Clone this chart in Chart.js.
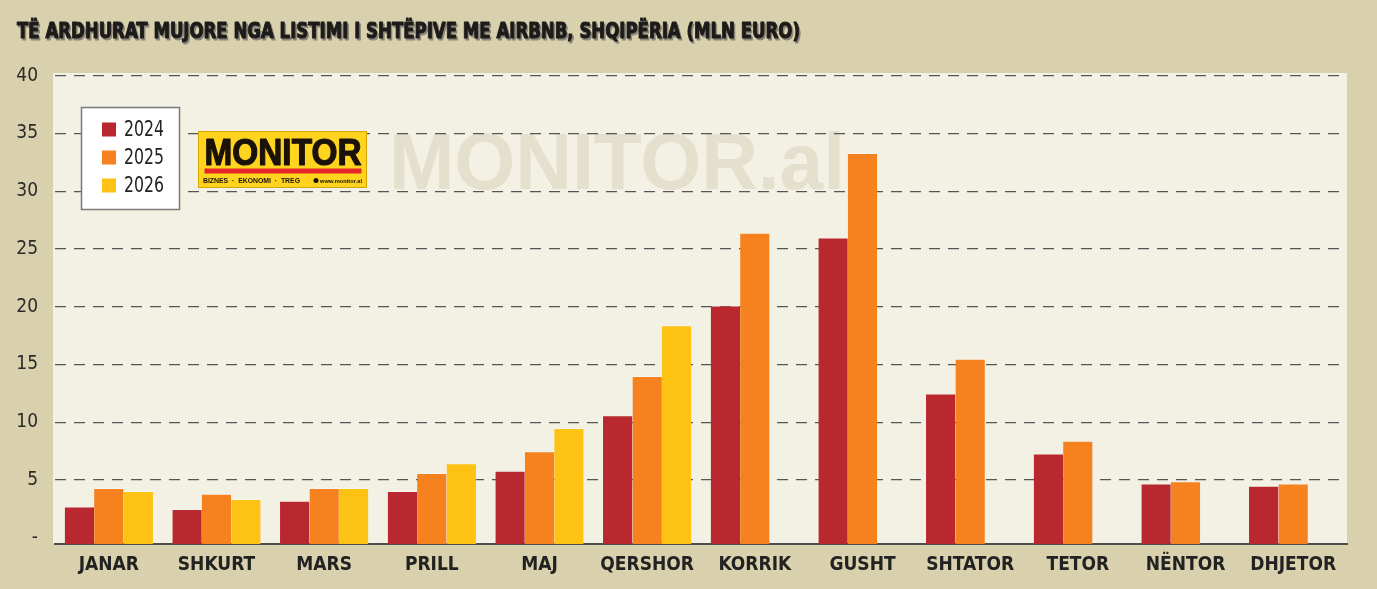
<!DOCTYPE html>
<html>
<head>
<meta charset="utf-8">
<script src="https://cdn.jsdelivr.net/npm/chart.js@4/dist/chart.umd.min.js"></script>
<style>
  html, body { margin: 0; padding: 0; background: #d9d1ad; }
  #wrap { width: 1377px; height: 589px; }
</style>
</head>
<body>
<div id="wrap"><canvas id="chart"></canvas></div>
<script>
const title = "TË ARDHURAT MUJORE NGA LISTIMI I SHTËPIVE ME AIRBNB, SHQIPËRIA (MLN EURO)";
const months = ["JANAR", "SHKURT", "MARS", "PRILL", "MAJ", "QERSHOR", "KORRIK", "GUSHT", "SHTATOR", "TETOR", "NËNTOR", "DHJETOR"];
const years = ["2024", "2025", "2026"];
const values2024 = [2.7, 2.5, 3.2, 4.05, 5.8, 10.6, 20.1, 26.0, 12.5, 7.3, 4.7, 4.5];
const values2025 = [4.3, 3.8, 4.3, 5.6, 7.5, 14.0, 26.4, 33.3, 15.5, 8.4, 4.9, 4.7];
const values2026 = [4.05, 3.35, 4.3, 6.45, 9.5, 18.4, null, null, null, null, null, null];
const yTicks = [0, 5, 10, 15, 20, 25, 30, 35, 40];
const colors = ["#b9272f", "#f5821f", "#fec214"];

const pageBg = "#d9d1ad";
const plotBg = "#f3f0e4";
const narrow = '"DejaVu Sans Condensed", "Liberation Sans", sans-serif';
const yMin = -0.54;

// draws text squeezed to a given width, optionally thickened with a stroke
function fitText(ctx, text, x, y, width, stroke) {
  const w = ctx.measureText(text).width;
  ctx.save();
  ctx.translate(x, y);
  ctx.scale(width / w, 1);
  if (stroke) {
    ctx.strokeStyle = ctx.fillStyle;
    ctx.lineWidth = stroke;
    ctx.lineJoin = "round";
    ctx.strokeText(text, 0, 0);
  }
  ctx.fillText(text, 0, 0);
  ctx.restore();
}

const decor = {
  id: "decor",
  beforeDraw(chart) {
    const { ctx, chartArea: a, width, height } = chart;
    ctx.save();
    ctx.fillStyle = pageBg;
    ctx.fillRect(0, 0, width, height);
    ctx.fillStyle = plotBg;
    ctx.fillRect(a.left - 2, a.top - 1, a.right - a.left + 2, a.bottom - a.top + 1);

    // watermark
    ctx.fillStyle = "#e5e0cd";
    ctx.font = 'bold 80px "Liberation Sans"';
    ctx.textBaseline = "alphabetic";
    fitText(ctx, "MONITOR.al", 389, 189, 456);

    // title with a soft shadow
    ctx.font = "bold 22px " + narrow;
    ctx.fillStyle = "#8a8578";
    fitText(ctx, title, 18.5, 39.5, 783, 1);
    ctx.fillStyle = "#1c1b1a";
    fitText(ctx, title, 17, 38, 783, 1);
    ctx.restore();
  },
  afterDraw(chart) {
    const { ctx } = chart;
    ctx.save();

    // legend box
    ctx.fillStyle = "#ffffff";
    ctx.fillRect(81.5, 107.5, 98, 102);
    ctx.strokeStyle = "#7a7a7a";
    ctx.lineWidth = 1.5;
    ctx.strokeRect(81.5, 107.5, 98, 102);
    const rows = [129.5, 157.5, 185.5];
    chart.data.datasets.forEach((ds, i) => {
      ctx.fillStyle = ds.backgroundColor;
      ctx.fillRect(102, rows[i] - 7, 14, 14);
      ctx.fillStyle = "#222222";
      ctx.font = "22px " + narrow;
      ctx.textBaseline = "middle";
      fitText(ctx, ds.label, 124, rows[i] + 1, 40);
    });

    // logo
    ctx.fillStyle = "#ffd41f";
    ctx.fillRect(198.5, 131.5, 168, 56);
    ctx.strokeStyle = "#d9a300";
    ctx.lineWidth = 1;
    ctx.strokeRect(198.5, 131.5, 168, 56);
    ctx.fillStyle = "#1a1208";
    ctx.textBaseline = "alphabetic";
    ctx.font = 'bold 36px "Liberation Sans"';
    fitText(ctx, "MONITOR", 204.5, 164.5, 157, 1.2);
    ctx.fillStyle = "#e3262a";
    ctx.fillRect(204.5, 168.5, 157, 5);
    ctx.fillStyle = "#1a1208";
    ctx.font = 'bold 7px "Liberation Sans"';
    fitText(ctx, "BIZNES  ·  EKONOMI  ·  TREG", 203, 183, 97);
    ctx.font = 'bold 6px "Liberation Sans"';
    fitText(ctx, "www.monitor.al", 320, 182.5, 42);
    ctx.beginPath();
    ctx.arc(316, 180.5, 2.5, 0, Math.PI * 2);
    ctx.fill();
    ctx.restore();
  }
};

new Chart(document.getElementById("chart"), {
  type: "bar",
  data: {
    labels: months,
    datasets: [
      { label: years[0], data: values2024, backgroundColor: colors[0] },
      { label: years[1], data: values2025, backgroundColor: colors[1] },
      { label: years[2], data: values2026, backgroundColor: colors[2] }
    ]
  },
  options: {
    responsive: true,
    maintainAspectRatio: false,
    animation: false,
    devicePixelRatio: 1,
    layout: { padding: { top: 74, right: 30, left: 0, bottom: 0 } },
    datasets: {
      bar: {
        barPercentage: 1,
        categoryPercentage: 0.82,
        base: yMin,
        borderWidth: { top: 1, left: 0, right: 0, bottom: 0 },
        borderColor: "rgba(255,255,255,0.35)",
        borderSkipped: "bottom"
      }
    },
    plugins: {
      legend: { display: false },
      tooltip: { enabled: false },
      title: { display: false }
    },
    scales: {
      x: {
        afterFit: (s) => { s.height = 45; },
        grid: { display: false, drawTicks: false },
        border: { display: true, color: "#4d4d4d", width: 2 },
        ticks: {
          padding: 10,
          color: "#222222",
          font: { family: narrow, weight: "bold", size: 19 }
        }
      },
      y: {
        min: yMin,
        max: 40.15,
        afterFit: (s) => { s.width = 55; },
        afterBuildTicks: (s) => { s.ticks = yTicks.map((v) => ({ value: v })); },
        grid: {
          drawTicks: false,
          color: (c) => (c.tick && c.tick.value === 0 ? "rgba(0,0,0,0)" : "#555555"),
          lineWidth: 1.3
        },
        border: { display: false, dash: [11, 8] },
        ticks: {
          padding: 17,
          color: "#2a2a2a",
          font: { family: narrow, size: 19 },
          callback: (v) => (v === 0 ? "-" : v)
        }
      }
    }
  },
  plugins: [decor]
});
</script>
</body>
</html>
